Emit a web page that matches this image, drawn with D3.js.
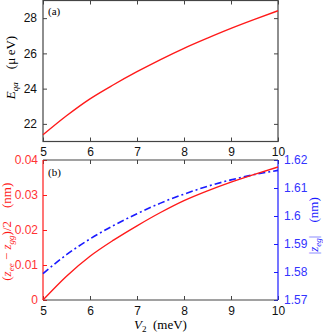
<!DOCTYPE html>
<html>
<head>
<meta charset="utf-8">
<script src="https://cdn.jsdelivr.net/npm/d3@7"></script>
<style>
  body { margin: 0; background: #fff; }
  svg { display: block; }
  .tick text { font-family: "Liberation Sans", Arial, sans-serif; font-size: 12px; }
  .lbl { font-family: "Liberation Serif", "Times New Roman", serif; font-size: 13px; }
</style>
</head>
<body>
<div id="chart"></div>
<script>
// V2 grid (meV)
const v2 = [5, 5.5, 6, 6.5, 7, 7.5, 8, 8.5, 9, 9.5, 10]
// panel (a): E_qa (ueV)
const eqa = [21.38, 22.46, 23.42, 24.22, 24.96, 25.65, 26.29, 26.87, 27.42, 27.93, 28.42]
// panel (b): (z_ee - z_gg)/2 (nm), left axis
const zDiff = [0, 0.0068, 0.0125, 0.0171, 0.0212, 0.0250, 0.0284, 0.0312, 0.0337, 0.0359, 0.0380]
// panel (b): |z_eg| (nm), right axis
const zeg = [1.5794, 1.5862, 1.5918, 1.5966, 1.6008, 1.6046, 1.6078, 1.6106, 1.6129, 1.6148, 1.6163]

const xTicks = [5, 6, 7, 8, 9, 10]
const eqaTicks = [22, 24, 26, 28]
const zDiffTicks = [0, 0.01, 0.02, 0.03, 0.04]
const zegTicks = [1.57, 1.58, 1.59, 1.6, 1.61, 1.62]

const width = 323, height = 333
const red = '#ff1a1a', blue = '#1a1aff', frame = '#444'
const redTxt = '#ff3333', blueTxt = '#3333ff'

const svg = d3.select('#chart').append('svg')
  .attr('width', width).attr('height', height)

const x = d3.scaleLinear().domain([5, 10]).range([43, 278])
const yA = d3.scaleLinear().domain([21, 29]).range([141.5, 0.5])
const yL = d3.scaleLinear().domain([0, 0.04]).range([300, 160])
const yR = d3.scaleLinear().domain([1.57, 1.62]).range([300, 160])

const fmt = d => String(+d.toFixed(3))

function styleAxis(g, color, txt) {
  g.select('.domain').remove()
  g.selectAll('.tick line').attr('stroke', color)
  g.selectAll('.tick text').attr('fill', txt)
}

// ---- panel (a) ----
svg.append('g').attr('transform', 'translate(0,141.5)')
  .call(d3.axisBottom(x).tickValues(xTicks).tickSize(-4).tickPadding(6).tickFormat(fmt))
  .call(g => styleAxis(g, frame, '#111'))
svg.append('g').attr('transform', 'translate(0,0.5)')
  .call(d3.axisTop(x).tickValues(xTicks).tickSize(-4).tickFormat(''))
  .call(g => styleAxis(g, frame, '#111'))
svg.append('g').attr('transform', 'translate(43,0)')
  .call(d3.axisLeft(yA).tickValues(eqaTicks).tickSize(-4).tickPadding(6))
  .call(g => styleAxis(g, frame, '#111'))
svg.append('g').attr('transform', 'translate(278,0)')
  .call(d3.axisRight(yA).tickValues(eqaTicks).tickSize(-4).tickFormat(''))
  .call(g => styleAxis(g, frame, '#111'))

svg.append('rect')
  .attr('x', x(5)).attr('y', yA(29)).attr('width', x(10) - x(5)).attr('height', yA(21) - yA(29))
  .attr('fill', 'none').attr('stroke', frame).attr('stroke-width', 1.2)

const line = (ys) => d3.line()
  .x((d, i) => x(v2[i])).y(d => ys(d))
  .curve(d3.curveMonotoneX)

svg.append('path').datum(eqa)
  .attr('d', line(yA)).attr('fill', 'none').attr('stroke', red).attr('stroke-width', 1.4)

svg.append('text').attr('class', 'lbl').attr('x', 48).attr('y', 15).style('font-size', '11px').text('(a)')

const la = svg.append('text').attr('class', 'lbl')
  .attr('transform', `translate(15,${yA(25.2)}) rotate(-90)`).attr('text-anchor', 'middle')
la.append('tspan').attr('font-style', 'italic').text('E')
la.append('tspan').attr('dy', 3).style('font-size', '9px').attr('font-style', 'italic').text('qa')
la.append('tspan').attr('dy', -3).text('\u2003(\u03bc\u2009eV)')

// ---- panel (b) ----
svg.append('g').attr('transform', 'translate(0,300)')
  .call(d3.axisBottom(x).tickValues(xTicks).tickSize(-4).tickPadding(6).tickFormat(fmt))
  .call(g => styleAxis(g, frame, '#111'))
svg.append('g').attr('transform', 'translate(0,160)')
  .call(d3.axisTop(x).tickValues(xTicks).tickSize(-4).tickFormat(''))
  .call(g => styleAxis(g, frame, '#111'))
svg.append('g').attr('transform', 'translate(43,0)')
  .call(d3.axisLeft(yL).tickValues(zDiffTicks).tickSize(-4).tickPadding(5).tickFormat(fmt))
  .call(g => styleAxis(g, red, redTxt))
svg.append('g').attr('transform', 'translate(278,0)')
  .call(d3.axisRight(yR).tickValues(zegTicks).tickSize(-4).tickPadding(6).tickFormat(fmt))
  .call(g => styleAxis(g, blue, blueTxt))

// frame of (b): top/bottom dark, left red, right blue
svg.append('line').attr('x1', 43).attr('x2', 278).attr('y1', 160).attr('y2', 160).attr('stroke', frame).attr('stroke-width', 1.2)
svg.append('line').attr('x1', 43).attr('x2', 278).attr('y1', 300).attr('y2', 300).attr('stroke', frame).attr('stroke-width', 1.2)
svg.append('line').attr('x1', 43).attr('x2', 43).attr('y1', 160).attr('y2', 300).attr('stroke', red).attr('stroke-width', 1.2)
svg.append('line').attr('x1', 278).attr('x2', 278).attr('y1', 160).attr('y2', 300).attr('stroke', blue).attr('stroke-width', 1.2)

svg.append('path').datum(zeg)
  .attr('d', line(yR)).attr('fill', 'none').attr('stroke', blue).attr('stroke-width', 1.6)
  .attr('stroke-dasharray', '7,3,2,3')
svg.append('path').datum(zDiff)
  .attr('d', line(yL)).attr('fill', 'none').attr('stroke', red).attr('stroke-width', 1.4)

svg.append('text').attr('class', 'lbl').attr('x', 48).attr('y', 176).style('font-size', '11px').text('(b)')

const lb = svg.append('text').attr('class', 'lbl').attr('fill', red)
  .attr('transform', `translate(11,${yL(0.0195)}) rotate(-90)`).attr('text-anchor', 'middle')
lb.append('tspan').text('(')
lb.append('tspan').attr('font-style', 'italic').text('z')
lb.append('tspan').attr('dy', 3).style('font-size', '9px').attr('font-style', 'italic').text('ee')
lb.append('tspan').attr('dy', -3).text(' \u2212 ')
lb.append('tspan').attr('font-style', 'italic').text('z')
lb.append('tspan').attr('dy', 3).style('font-size', '9px').attr('font-style', 'italic').text('gg')
lb.append('tspan').attr('dy', -3).text(')/2\u2003(nm)')

const lr = svg.append('text').attr('class', 'lbl').attr('fill', blue)
  .attr('transform', `translate(318,${yR(1.5965)}) rotate(-90)`).attr('text-anchor', 'middle')
lr.append('tspan').text('|')
lr.append('tspan').attr('font-style', 'italic').text('z')
lr.append('tspan').attr('dy', 3).style('font-size', '9px').attr('font-style', 'italic').text('eg')
lr.append('tspan').attr('dy', -3).text('|\u2003(nm)')

const lx = svg.append('text').attr('class', 'lbl')
  .attr('x', x(7.5)).attr('y', 329).attr('text-anchor', 'middle')
lx.append('tspan').attr('font-style', 'italic').text('V')
lx.append('tspan').attr('dy', 3).style('font-size', '9px').text('2')
lx.append('tspan').attr('dy', -3).text('\u2002(meV)')
</script>
</body>
</html>
